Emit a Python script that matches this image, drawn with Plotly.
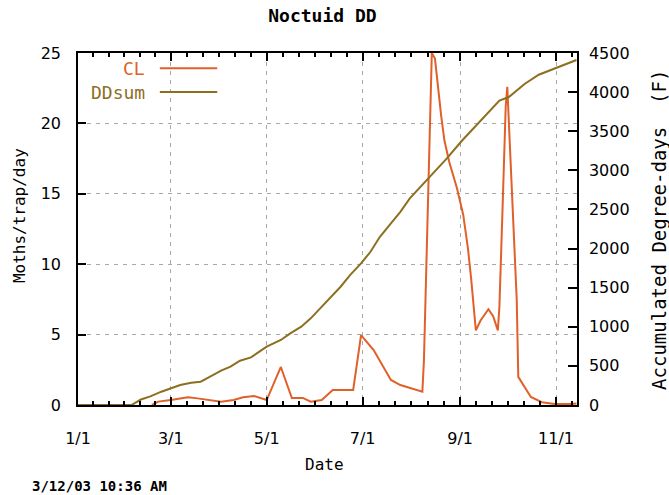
import plotly.graph_objects as go
import pandas as pd

# ---- data (day-of-year offsets from Jan 1) ----
year_start = "2002-01-01"

cl_day = [47, 51, 59, 70, 76, 82, 91, 99, 105, 112,
          120, 129, 136, 143, 148, 155, 162, 175, 180, 188,
          194, 199, 205, 211, 219, 220, 225, 227, 229, 231,
          233, 236, 241, 245, 248, 250, 253, 256, 261, 264,
          267, 268, 270, 272, 273, 275, 277, 279, 280, 284,
          288, 295, 303, 314, 317]
cl_val = [0, 0.24, 0.36, 0.55, 0.47, 0.36, 0.24, 0.36, 0.55, 0.64,
          0.35, 2.7, 0.5, 0.5, 0.24, 0.35, 1.07, 1.07, 4.97, 3.9,
          2.7, 1.78, 1.42, 1.2, 0.95, 3.2, 25.0, 24.6, 22.3, 20.5,
          18.8, 17.3, 15.4, 13.5, 11.1, 9.0, 5.3, 6.0, 6.8, 6.3,
          5.3, 7.0, 14.0, 21.2, 22.6, 17.5, 13.5, 7.5, 2.0, 1.3,
          0.57, 0.2, 0.07, 0.07, 0.1]

dd_day = [0, 34, 40, 46, 53, 59, 65, 72, 78, 84,
          91, 97, 103, 110, 114, 120, 129, 135, 142, 148,
          154, 161, 167, 173, 180, 186, 192, 199, 205, 211,
          218, 223, 234, 244, 256, 268, 274, 284, 293, 303,
          317]
dd_val = [0, 0, 70, 110, 170, 213, 256, 285, 298, 362,
          439, 490, 566, 609, 660, 745, 831, 916, 1001, 1108,
          1236, 1384, 1512, 1661, 1811, 1959, 2151, 2322, 2470, 2641,
          2790, 2902, 3140, 3375, 3631, 3891, 3937, 4104, 4222, 4300,
          4410]

tick_dates = ["2002-01-01", "2002-03-01", "2002-05-01", "2002-07-01", "2002-09-01", "2002-11-01"]
tick_text = ["1/1", "3/1", "5/1", "7/1", "9/1", "11/1"]
x_end = "2002-11-14 08:00"

title_text = "Noctuid DD"
stamp_text = "3/12/03 10:36 AM"

CL_COLOR = "#e0602a"
DD_COLOR = "#8c6f1f"

t0 = pd.Timestamp(year_start)
cl_x = [t0 + pd.Timedelta(days=d) for d in cl_day]
dd_x = [t0 + pd.Timedelta(days=d) for d in dd_day]

# minor ticks: 6 subdivisions per major interval
tk = [pd.Timestamp(d) for d in tick_dates] + [pd.Timestamp("2003-01-01")]
minor_vals = []
for a, b in zip(tk[:-1], tk[1:]):
    for k in range(1, 6):
        m = a + (b - a) * k / 6
        if m < pd.Timestamp(x_end):
            minor_vals.append(m)

fig = go.Figure()
fig.add_trace(go.Scatter(x=dd_x, y=dd_val, mode="lines", name="DDsum",
                         line=dict(color=DD_COLOR, width=2), yaxis="y2"))
fig.add_trace(go.Scatter(x=cl_x, y=cl_val, mode="lines", name="CL",
                         line=dict(color=CL_COLOR, width=2), yaxis="y"))

tickfont = dict(family="DejaVu Sans", size=16, color="#000")
mono = "DejaVu Sans Mono"

fig.update_layout(
    width=669, height=495,
    margin=dict(l=78, r=92, t=53, b=90),
    paper_bgcolor="white", plot_bgcolor="white",
    showlegend=False,
    title=dict(text="<b>" + title_text + "</b>", x=0.482, xanchor="center",
               y=1 - 16 / 495, yanchor="middle", yref="container",
               font=dict(family=mono, size=18, color="#000")),
    xaxis=dict(type="date", range=[year_start, x_end],
               tickmode="array", tickvals=tick_dates, ticktext=tick_text,
               ticks="inside", ticklen=8, tickwidth=1.5, tickcolor="#000",
               showline=True, linecolor="#000", linewidth=1.5, mirror="ticks",
               showgrid=True, gridcolor="#a8a8a8", griddash="4px,5px", gridwidth=1,
               tickfont=tickfont, ticklabelstandoff=18, zeroline=False,
               minor=dict(tickmode="array", tickvals=minor_vals, ticks="inside",
                          ticklen=4, tickcolor="#000", showgrid=False)),
    yaxis=dict(range=[0, 25], dtick=5, ticks="inside", ticklen=8, tickwidth=1.5,
               tickcolor="#000", showline=True, linecolor="#000", linewidth=1.5,
               showgrid=True, gridcolor="#a8a8a8", griddash="4px,5px", gridwidth=1,
               zeroline=False, tickfont=tickfont, ticklabelstandoff=12),
    yaxis2=dict(range=[0, 4500], dtick=500, overlaying="y", side="right",
                ticks="inside", ticklen=9, tickwidth=1.5, tickcolor="#000",
                showline=True, linecolor="#000", linewidth=1.5, showgrid=False,
                zeroline=False, tickfont=tickfont, ticklabelstandoff=7),
)

ann_font = dict(family=mono, size=16, color="#000")
fig.add_annotation(text="Moths/trap/day", xref="paper", yref="paper",
                   x=-0.116, y=0.537, textangle=-90, showarrow=False,
                   xanchor="center", yanchor="middle", font=ann_font)
fig.add_annotation(text="Accumulated Degree-days  (F)", xref="paper", yref="paper",
                   x=1.164, y=0.497, textangle=-90, showarrow=False,
                   xanchor="center", yanchor="middle", font=dict(family=mono, size=19, color="#000"))
fig.add_annotation(text="Date", xref="paper", yref="paper",
                   x=0.493, y=-0.170, showarrow=False,
                   xanchor="center", yanchor="middle", font=ann_font)
fig.add_annotation(text="<b>" + stamp_text + "</b>", xref="paper", yref="paper",
                   x=-0.096, y=-0.230, showarrow=False,
                   xanchor="left", yanchor="middle", font=dict(family=mono, size=14, color="#000"))

# legend (text left of sample line, as in the reference)
for label, color, yp in [("CL", CL_COLOR, 0.957), ("DDsum", DD_COLOR, 0.889)]:
    fig.add_annotation(text=label, xref="paper", yref="paper", x=0.138, y=yp,
                       showarrow=False, xanchor="right", yanchor="middle",
                       font=dict(family=mono, size=18, color=color))
    fig.add_shape(type="line", xref="paper", yref="paper", x0=0.164, x1=0.279,
                  y0=yp, y1=yp, line=dict(color=color, width=2))

fig.write_html("out.html")
